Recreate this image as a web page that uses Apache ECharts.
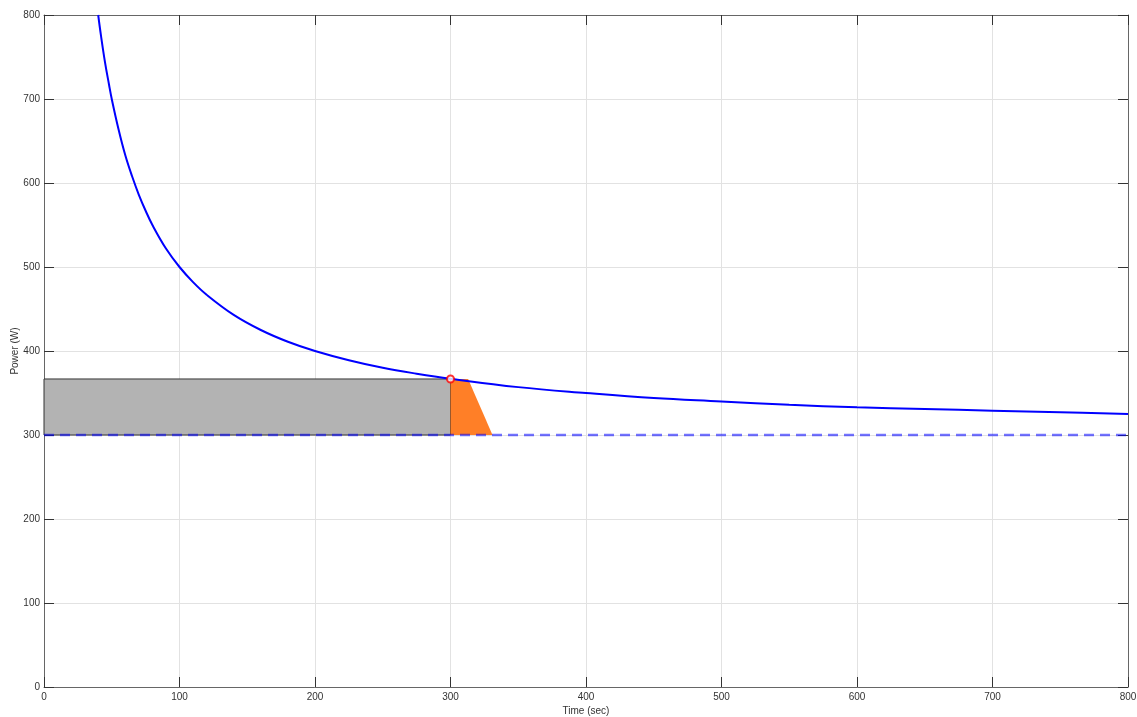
<!DOCTYPE html>
<html>
<head>
<meta charset="utf-8">
<script src="https://cdn.jsdelivr.net/npm/echarts@6/dist/echarts.min.js"></script>
<style>
  html, body { margin: 0; padding: 0; background: #fff; }
  #chart { width: 1137px; height: 717px; }
</style>
</head>
<body>
<div id="chart"></div>
<script>
// Power–duration curve (time in seconds, power in watts)
const curveTime  = [40, 42, 45, 48, 50, 55, 60, 65, 70, 75, 80, 90, 100, 110, 120, 140, 160, 180, 200, 225, 250, 275, 300, 350, 400, 450, 500, 550, 600, 650, 700, 750, 800];
const curvePower = [800, 776, 744, 717, 700, 664, 633, 608, 586, 567, 550, 522, 500, 482, 467, 443, 425, 411, 400, 389, 380, 373, 367, 357, 350, 344, 340, 336, 333, 331, 329, 327, 325];

// Critical power baseline
const baseTime  = [0, 800];
const basePower = [300, 300];

// Sustained effort block (gray) and its overflow wedge (orange)
const blockTime  = [0, 0, 300, 300];
const blockPower = [300, 366.7, 366.7, 300];
const wedgeTime  = [300, 300, 313, 331];
const wedgePower = [300, 366.7, 366.7, 300];

// Marked point on the curve
const markTime  = [300];
const markPower = [366.7];

const xTicks = [0, 100, 200, 300, 400, 500, 600, 700, 800];
const yTicks = [0, 100, 200, 300, 400, 500, 600, 700, 800];

const zip = (a, b) => a.map((v, i) => [v, b[i]]);

// Filled polygon drawn through the cartesian scales
function polySeries(xs, ys, fill, stroke) {
  return {
    type: 'custom',
    coordinateSystem: 'cartesian2d',
    silent: true,
    data: zip(xs, ys),
    renderItem: function (params, api) {
      if (params.dataIndex !== 0) return null;
      const pts = xs.map((x, i) => api.coord([x, ys[i]]));
      return {
        type: 'polygon',
        shape: { points: pts },
        style: { fill: fill, stroke: stroke || null, lineWidth: stroke ? 1 : 0 }
      };
    },
    z: 1
  };
}

const axisText = { color: '#333', fontSize: 10, fontFamily: 'Liberation Sans, Arial, sans-serif' };
const lineCol = '#666';

function xAxisDef(pos, main) {
  return {
    type: 'value', min: xTicks[0], max: xTicks[xTicks.length - 1], interval: 100,
    position: pos,
    name: main ? 'Time (sec)' : '', nameLocation: 'middle', nameGap: 19,
    nameMoveOverlap: false,
    nameTextStyle: axisText,
    axisLine: { show: true, onZero: false, lineStyle: { color: lineCol, width: 1 } },
    axisTick: { show: true, inside: true, length: 10, lineStyle: { color: '#333' } },
    axisLabel: Object.assign({ show: main, margin: 5 }, axisText),
    splitLine: { show: main, lineStyle: { color: '#e2e2e2', width: 1 } }
  };
}
function yAxisDef(pos, main) {
  return {
    type: 'value', min: yTicks[0], max: yTicks[yTicks.length - 1], interval: 100,
    position: pos,
    name: main ? 'Power (W)' : '', nameLocation: 'middle', nameGap: 24, nameRotate: 90,
    nameMoveOverlap: false,
    nameTextStyle: axisText,
    axisLine: { show: true, onZero: false, lineStyle: { color: lineCol, width: 1 } },
    axisTick: { show: true, inside: true, length: 10, lineStyle: { color: '#333' } },
    axisLabel: Object.assign({ show: main, margin: 4 }, axisText),
    splitLine: { show: main, lineStyle: { color: '#e2e2e2', width: 1 } }
  };
}

const chart = echarts.init(document.getElementById('chart'), null, { renderer: 'canvas' });
chart.setOption({
  animation: false,
  backgroundColor: '#fff',
  grid: { left: 44, right: 9, top: 15, bottom: 30, containLabel: false, outerBoundsMode: 'none' },
  xAxis: [xAxisDef('bottom', true), xAxisDef('top', false)],
  yAxis: [yAxisDef('left', true), yAxisDef('right', false)],
  series: [
    polySeries(blockTime, blockPower, '#b3b3b3', '#333333'),
    polySeries(wedgeTime, wedgePower, '#ff7f27', null),
    {
      type: 'line', data: zip(baseTime, basePower), symbol: 'none', silent: true,
      lineStyle: { color: 'rgba(0,0,255,0.55)', width: 2.5, type: [10, 6] }, z: 3
    },
    {
      type: 'line', data: zip(curveTime, curvePower), symbol: 'none', smooth: 0.4, silent: true,
      clip: true,
      lineStyle: { color: '#0000ff', width: 2 }, z: 4
    },
    {
      type: 'scatter', data: zip(markTime, markPower), symbol: 'emptyCircle', symbolSize: 7, silent: true,
      itemStyle: { color: '#ff0000', borderColor: '#ff0000', borderWidth: 1 }, z: 5
    }
  ]
});
</script>
</body>
</html>
